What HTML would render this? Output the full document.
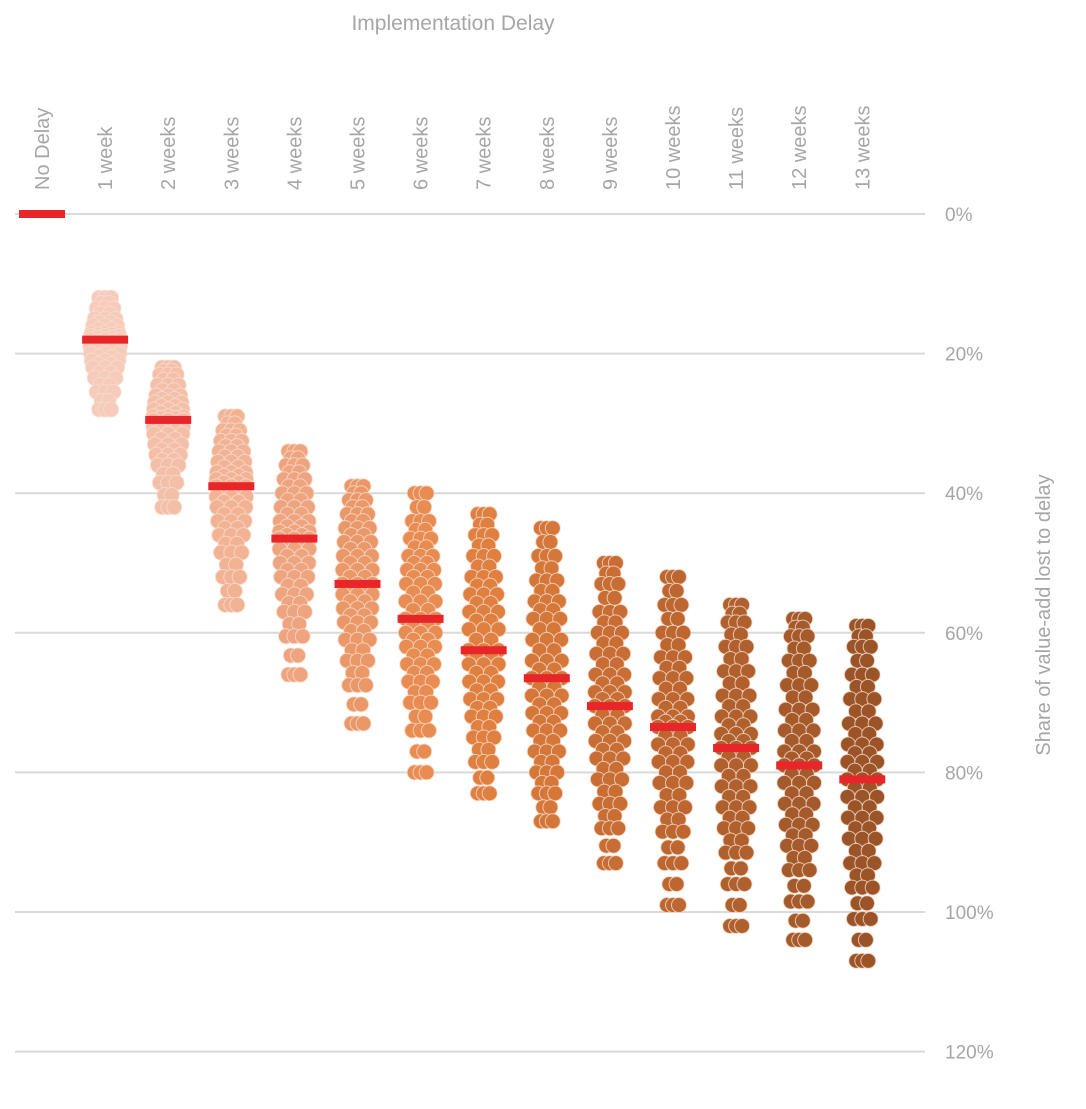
<!DOCTYPE html>
<html><head><meta charset="utf-8"><style>
html,body{margin:0;padding:0;background:#fff;}
svg text{font-family:"Liberation Sans",sans-serif;fill:#a6a6a6;}
</style></head><body>
<svg id="chart" width="1086" height="1104" viewBox="0 0 1086 1104" xmlns="http://www.w3.org/2000/svg">
<text x="453" y="30" font-size="21" text-anchor="middle">Implementation Delay</text>
<g id="grid"></g><g id="dots"></g><g id="medians"></g><g id="labels"></g>
<text transform="translate(1050,615) rotate(-90)" font-size="20" text-anchor="middle">Share of value-add lost to delay</text>
</svg>
<script>
const categories=["No Delay","1 week","2 weeks","3 weeks","4 weeks","5 weeks","6 weeks","7 weeks","8 weeks","9 weeks","10 weeks","11 weeks","12 weeks","13 weeks"];
const medians=[0,18,29.5,39,46.5,53,58,62.5,66.5,70.5,73.5,76.5,79,81];
const quantiles=[
[],
[12,13.5,15,16,17,17.5,18,18.5,19,20,21,22,23.5,25.5,28],
[22,23,24.5,26,27,28,29,29.5,30.5,31.5,33,34.5,36,38.5,42],
[29,31,32.5,34,35.5,37,38,39,40.5,42,44,46,48.5,52,56],
[34,36,38,40,42,44,45.5,46.5,48,50,52,54.5,57,60.5,66],
[39,41,43,45,47,49,51,53,54.5,56.5,58.5,61,64,67.5,73],
[40,44,46.5,49,51,53,55.5,58,60,62,64.5,67,70,74,80],
[43,46,49,52,54.5,57,59.5,62.5,64.5,67,69.5,72,75,78.5,83],
[45,49,52.5,55.5,58,61,64,66.5,69,71.5,74,77,80,83,87],
[50,53,57,60,63,66,68.5,70.5,73,75.5,78,81,84.5,88,93],
[52,56,60,63.5,66.5,69.5,72,73.5,76,78.5,81.5,85,88.5,93,99],
[56,58.5,62,65.5,69,72,74.5,76.5,79,82,85,88,91.5,96,102],
[58,60.5,64,67.5,71,74,77,79,81.5,84.5,87.5,90.5,94,98.5,104],
[59,62,66,69.5,73,76,78.5,81,83.5,86.5,89.5,93,96.5,101,107]];
const yTicks=[0,20,40,60,80,100,120];
const colors=["#f6cbbb","#f6cbbb","#f4bfa9","#f2b395","#eea47f","#eb9868","#e88c52","#e08040","#d6773a","#c86d33","#bd6630","#b0602d","#a55a2b","#9a5428"];
const NS="http://www.w3.org/2000/svg";
const yS=v=>214+v*6.98;
const xS=i=>42+i*63.1;
function mk(tag,attrs,parent){const e=document.createElementNS(NS,tag);for(const k in attrs)e.setAttribute(k,attrs[k]);parent.appendChild(e);return e;}
const grid=document.getElementById('grid'),labels=document.getElementById('labels'),dots=document.getElementById('dots'),meds=document.getElementById('medians');
yTicks.forEach(t=>{
 const l=mk('line',{x1:15,x2:925,y1:yS(t),y2:yS(t),stroke:'#d9d9d9','stroke-width':2},grid);
 
 
 const tx=mk('text',{x:945,y:yS(t)+7,'font-size':19},labels);
 tx.textContent=t+'%';
 
 
});
categories.forEach((c,i)=>{
 const tx=mk('text',{transform:`translate(${xS(i)+7},190) rotate(-90)`,'font-size':20},labels);
 tx.textContent=c;
 
 
 const q=quantiles[i];
 const g=mk('g',{},dots);
 
 
 const rows=[];
 for(let k=0;k<q.length;k++){rows.push(q[k]);if(k<q.length-1)rows.push((q[k]+q[k+1])/2);}
 const n=rows.length,mid=(n-1)/2;
 rows.forEach((v,r)=>{
  const d=Math.abs(r-mid)/mid;
  const w=15*(1-0.6*d*d);
  const offs=(r%2===0)?[-w,0,w]:[-w*0.5,w*0.5];
  offs.forEach(o=>{
   const cc=mk('circle',{cx:xS(i)+o,cy:yS(v),r:7.5,fill:colors[i],stroke:'#f8dccd','stroke-width':1,'stroke-opacity':0.8},g);
   
   
  });
 });
 const m=mk('rect',{x:xS(i)-23,y:yS(medians[i])-4,width:46,height:8,fill:'#e8262a'},meds);
 
 
});
</script>
</body></html>
